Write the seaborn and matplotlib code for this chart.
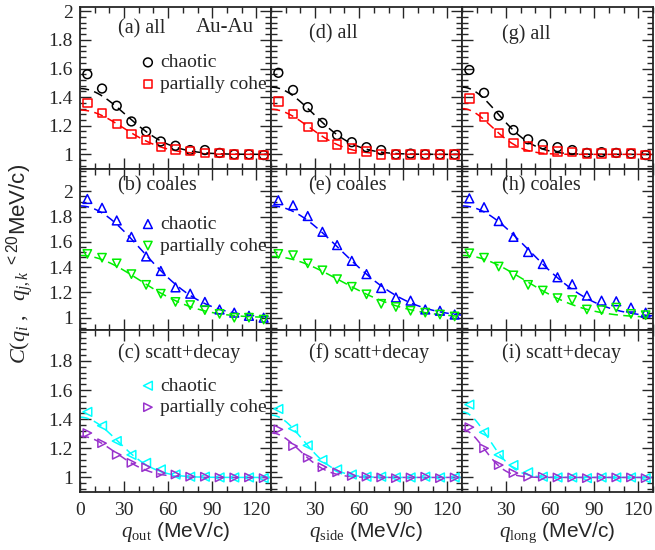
import numpy as np
import seaborn as sns
import matplotlib.pyplot as plt
from matplotlib.ticker import MultipleLocator, FormatStrFormatter

# bin centres of q (MeV/c)
q_bins = [5, 15, 25, 35, 45, 55, 65, 75, 85, 95, 105, 115, 125]

# (a), (d), (g): all pions
all_out_chaotic = [1.56, 1.46, 1.34, 1.23, 1.16, 1.09, 1.06, 1.03, 1.03, 1.01, 1.00, 1.00, 0.995]
all_out_partial = [1.36, 1.29, 1.21, 1.14, 1.10, 1.05, 1.035, 1.025, 1.01, 1.01, 1.00, 1.00, 0.995]
all_side_chaotic = [1.57, 1.45, 1.33, 1.22, 1.135, 1.085, 1.05, 1.03, 1.00, 1.005, 1.00, 1.00, 1.00]
all_side_partial = [1.37, 1.28, 1.19, 1.12, 1.07, 1.04, 1.02, 1.00, 1.00, 1.00, 1.00, 1.00, 1.00]
all_long_chaotic = [1.59, 1.43, 1.27, 1.17, 1.105, 1.07, 1.05, 1.03, 1.01, 1.015, 1.01, 1.005, 0.995]
all_long_partial = [1.39, 1.26, 1.15, 1.08, 1.055, 1.03, 1.02, 1.015, 1.005, 1.005, 1.01, 1.005, 0.995]

# (b), (e), (h): coalescence
coal_out_chaotic = [1.94, 1.87, 1.77, 1.64, 1.485, 1.37, 1.24, 1.19, 1.125, 1.065, 1.04, 1.015, 1.00]
coal_out_partial = [1.505, 1.475, 1.43, 1.345, 1.26, 1.19, 1.125, 1.10, 1.06, 1.03, 1.00, 1.00, 0.985]
coal_side_chaotic = [1.93, 1.89, 1.805, 1.68, 1.575, 1.45, 1.345, 1.235, 1.16, 1.135, 1.065, 1.055, 1.025]
coal_side_partial = [1.505, 1.495, 1.43, 1.375, 1.305, 1.245, 1.185, 1.11, 1.085, 1.055, 1.04, 1.025, 1.01]
coal_long_chaotic = [1.945, 1.875, 1.765, 1.64, 1.52, 1.425, 1.32, 1.265, 1.175, 1.135, 1.13, 1.08, 1.04]
coal_long_partial = [1.51, 1.475, 1.405, 1.335, 1.26, 1.215, 1.155, 1.14, 1.065, 1.06, 1.08, 1.03, 1.02]

# (c), (f), (i): scattering + decay
sd_out_chaotic = [1.45, 1.355, 1.25, 1.155, 1.10, 1.055, 1.02, 1.005, 1.005, 1.00, 1.00, 1.00, 0.995]
sd_out_partial = [1.305, 1.235, 1.155, 1.10, 1.07, 1.03, 1.02, 1.005, 1.005, 1.00, 1.00, 1.00, 0.995]
sd_side_chaotic = [1.47, 1.335, 1.22, 1.12, 1.055, 1.02, 1.005, 1.005, 1.00, 1.00, 1.005, 1.00, 1.00]
sd_side_partial = [1.33, 1.215, 1.135, 1.07, 1.035, 1.01, 1.005, 1.00, 0.995, 1.00, 1.005, 0.995, 1.00]
sd_long_chaotic = [1.50, 1.31, 1.155, 1.085, 1.035, 1.005, 1.00, 1.00, 0.995, 1.00, 1.00, 1.00, 0.995]
sd_long_partial = [1.345, 1.20, 1.085, 1.03, 1.005, 1.005, 1.00, 1.00, 0.995, 1.00, 1.00, 1.00, 0.995]

# Gaussian fit parameters, order: out, side, long
# C(q) = 1 + lambda * exp(-R^2 q^2), R in fm
all_lam_chaotic = [0.46, 0.47, 0.47]
all_R_chaotic = [4.52, 4.87, 5.72]
all_lam_partial = [0.31, 0.315, 0.32]
all_R_partial = [4.81, 5.41, 6.92]
coal_lam_chaotic = [0.885, 0.885, 0.885]
coal_R_chaotic = [3.34, 2.95, 3.08]
coal_lam_partial = [0.493, 0.485, 0.493]
coal_R_partial = [3.46, 2.97, 3.29]
sd_lam_chaotic = [0.414, 0.428, 0.45]
sd_R_chaotic = [5.48, 6.47, 7.89]
sd_lam_partial = [0.283, 0.306, 0.329]
sd_R_partial = [5.80, 7.18, 9.40]

HBARC = 197.327

directions = ['out', 'side', 'long']
panel_tags = [['(a) all', '(d) all', '(g) all'],
              ['(b) coales', '(e) coales', '(h) coales'],
              ['(c) scatt+decay', '(f) scatt+decay', '(i) scatt+decay']]

rows = [
    dict(chaotic=[all_out_chaotic, all_side_chaotic, all_long_chaotic],
         partial=[all_out_partial, all_side_partial, all_long_partial],
         lam_c=all_lam_chaotic, R_c=all_R_chaotic, lam_p=all_lam_partial, R_p=all_R_partial,
         colors=('black', '#ff0000'), markers=('o', 's'), ylim=(0.9, 2.03),
         yticks=[1, 1.2, 1.4, 1.6, 1.8, 2]),
    dict(chaotic=[coal_out_chaotic, coal_side_chaotic, coal_long_chaotic],
         partial=[coal_out_partial, coal_side_partial, coal_long_partial],
         lam_c=coal_lam_chaotic, R_c=coal_R_chaotic, lam_p=coal_lam_partial, R_p=coal_R_partial,
         colors=('#0000ff', '#00ee00'), markers=('^', 'v'), ylim=(0.9, 2.18),
         yticks=[1, 1.2, 1.4, 1.6, 1.8, 2]),
    dict(chaotic=[sd_out_chaotic, sd_side_chaotic, sd_long_chaotic],
         partial=[sd_out_partial, sd_side_partial, sd_long_partial],
         lam_c=sd_lam_chaotic, R_c=sd_R_chaotic, lam_p=sd_lam_partial, R_p=sd_R_partial,
         colors=('#00ffff', '#9932cc'), markers=('<', '>'), ylim=(0.9, 2.01),
         yticks=[1, 1.2, 1.4, 1.6, 1.8]),
]

sns.set_style('ticks')
plt.rcParams['font.family'] = ['Liberation Serif', 'DejaVu Serif']
plt.rcParams['mathtext.fontset'] = 'custom'
plt.rcParams['mathtext.rm'] = 'Liberation Serif'
plt.rcParams['mathtext.it'] = 'Liberation Serif:italic'
plt.rcParams['mathtext.sf'] = 'Liberation Sans'

fig, axes = plt.subplots(3, 3, figsize=(6.55, 5.5), dpi=100)
fig.subplots_adjust(left=80 / 655, right=653 / 655, top=1 - 7 / 550, bottom=1 - 492 / 550,
                    wspace=0, hspace=0)

q_fit = np.linspace(0, 130, 261)
dash = (0, (6, 3.5))


def tick_fmt(v, pos):
    return '%g' % round(v, 2)


for r, row in enumerate(rows):
    for c in range(3):
        ax = axes[r, c]
        col_c, col_p = row['colors']
        m_c, m_p = row['markers']

        fit_c = 1 + row['lam_c'][c] * np.exp(-(row['R_c'][c] * q_fit / HBARC) ** 2)
        fit_p = 1 + row['lam_p'][c] * np.exp(-(row['R_p'][c] * q_fit / HBARC) ** 2)
        sns.lineplot(x=q_fit, y=fit_c, ax=ax, color=col_c, linestyle=dash, lw=1.1)
        sns.lineplot(x=q_fit, y=fit_p, ax=ax, color=col_p, linestyle=dash, lw=1.1)

        sns.scatterplot(x=q_bins, y=row['chaotic'][c], ax=ax, marker=m_c, s=40,
                        facecolors='none', edgecolor=col_c, linewidth=1.1,
                        label='chaotic', legend=False, zorder=3)
        sns.scatterplot(x=q_bins, y=row['partial'][c], ax=ax, marker=m_p, s=36,
                        facecolors='none', edgecolor=col_p, linewidth=1.1,
                        label='partially cohe', legend=False, zorder=3)

        ax.set_xlim(0, 130)
        ax.set_ylim(*row['ylim'])
        ax.set_yticks(row['yticks'])
        ax.set_xticks([0, 30, 60, 90, 120] if c == 0 else [30, 60, 90, 120])
        ax.xaxis.set_minor_locator(MultipleLocator(10))
        ax.yaxis.set_minor_locator(MultipleLocator(0.04))
        ax.yaxis.set_major_formatter(plt.FuncFormatter(tick_fmt))
        ax.xaxis.set_major_formatter(plt.FuncFormatter(tick_fmt))
        ax.tick_params(which='both', direction='in', top=True, right=True, width=1)
        ax.tick_params(which='major', length=8, labelsize=14, pad=5)
        ax.tick_params(which='minor', length=4)
        for sp in ax.spines.values():
            sp.set_linewidth(1.3)
        ax.set_xlabel('')
        ax.set_ylabel('')

        if c > 0:
            ax.tick_params(labelleft=False)
        if r == 2:
            ax.tick_params(axis='x', pad=7)
            ax.set_xlabel(r'$q_{\rm %s}$ (MeV/c)' % directions[c], family='Liberation Sans',
                          fontsize=15, labelpad=1)
        else:
            ax.tick_params(labelbottom=False)

        ty = {0: 0.865 if c == 0 else 0.835, 1: 0.895, 2: 0.862}[r]
        tx = 0.2 if c < 2 else 0.21
        ax.text(tx, ty, panel_tags[r][c], transform=ax.transAxes, fontsize=14.5,
                va='center', ha='left')

        if c == 0:
            ax.legend(loc='upper left', bbox_to_anchor=(0.325, 0.71), frameon=False,
                      fontsize=14, handlelength=0.6, handletextpad=0.32, labelspacing=0.2,
                      borderpad=0, borderaxespad=0)

axes[0, 0].text(0.76, 0.876, 'Au-Au', transform=axes[0, 0].transAxes, fontsize=15,
                ha='center', va='center')

fig.text(0.03, 0.52, r'$C(q_i\ ,\ \ q_{j,k}\ {}^{\mathsf{<20}}$MeV/c)', rotation=90,
         family='Liberation Sans', fontsize=16, ha='center', va='center')

plt.savefig('out.png', dpi=100)
